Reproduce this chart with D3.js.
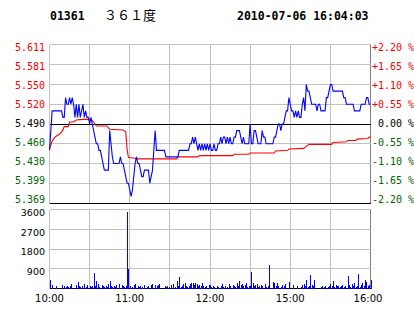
<!DOCTYPE html>
<meta charset="utf-8">
<style>
body{margin:0;background:#fff;}
svg{display:block;}
.mono{font-family:"DejaVu Sans Mono",monospace;}
.sans{font-family:"DejaVu Sans",Verdana,sans-serif;}
</style>
<body>
<script src="https://d3js.org/d3.v7.min.js"></script>
<script>

var stockCode="01361", stockName="３６１度", stamp="2010-07-06 16:04:03";
var prevClose=5.49;
var pctTicks=[2.2,1.65,1.1,0.55,0,-0.55,-1.1,-1.65,-2.2];
var volTicks=[3600,2700,1800,900];
var gridMinutes=[0,30,60,90,120,150,180,210,240];
var timeLabels=["10:00","11:00","12:00","15:00","16:00"];
var timeMinutes=[0,60,120,180,240];

// price per minute, 10:00-12:30 then 14:30-16:00 (241 points)
var prices=[
5.45,5.48,5.51,5.51,5.51,5.51,5.51,5.51,5.51,5.51,
5.50,5.50,5.53,5.52,5.52,5.53,5.52,5.53,5.52,5.50,
5.52,5.50,5.52,5.50,5.51,5.52,5.50,5.51,5.50,5.50,
5.49,5.50,5.49,5.48,5.47,5.46,5.46,5.45,5.45,5.44,
5.43,5.42,5.42,5.42,5.42,5.48,5.46,5.44,5.43,5.43,
5.43,5.43,5.43,5.44,5.43,5.43,5.42,5.41,5.40,5.40,
5.39,5.38,5.39,5.41,5.43,5.44,5.43,5.43,5.42,5.41,
5.41,5.42,5.42,5.42,5.42,5.40,5.41,5.42,5.45,5.48,
5.45,5.45,5.45,5.45,5.45,5.45,5.45,5.44,5.44,5.44,
5.44,5.44,5.44,5.44,5.44,5.44,5.44,5.45,5.45,5.45,
5.45,5.45,5.45,5.45,5.45,5.46,5.46,5.47,5.46,5.47,
5.46,5.45,5.46,5.45,5.46,5.45,5.46,5.45,5.46,5.45,
5.46,5.45,5.45,5.46,5.45,5.45,5.46,5.46,5.47,5.46,
5.47,5.47,5.46,5.47,5.46,5.47,5.46,5.46,5.47,5.47,
5.48,5.48,5.48,5.47,5.46,5.47,5.46,5.46,5.46,5.46,
5.49,5.46,5.46,5.48,5.48,5.47,5.46,5.46,5.46,5.48,
5.47,5.47,5.46,5.46,5.46,5.46,5.46,5.46,5.47,5.47,
5.48,5.49,5.49,5.48,5.49,5.49,5.50,5.51,5.51,5.53,
5.52,5.51,5.51,5.50,5.51,5.50,5.51,5.50,5.50,5.52,
5.53,5.51,5.55,5.54,5.54,5.53,5.52,5.52,5.52,5.52,
5.51,5.52,5.52,5.51,5.51,5.51,5.51,5.53,5.53,5.54,
5.55,5.55,5.54,5.54,5.54,5.54,5.54,5.54,5.54,5.54,
5.53,5.53,5.52,5.52,5.52,5.52,5.52,5.52,5.51,5.51,
5.51,5.51,5.51,5.52,5.52,5.52,5.52,5.53,5.53,5.52,
5.52];

// average price [minute, value]
var avgPoints=[
[0,5.452],[1,5.458],[2,5.464],[4,5.470],[7,5.474],[9,5.478],[10,5.481],[11,5.486],
[14,5.486],[15,5.493],[18,5.493],[20,5.496],[25,5.497],[31,5.497],[33,5.493],[34,5.490],
[35,5.487],[43,5.487],[44,5.484],[45,5.482],[55,5.481],[57,5.478],[58,5.452],[59,5.439],
[64,5.438],[65,5.437],[95,5.437],[96,5.440],[111,5.440],[112,5.442],[137,5.442],[138,5.444],
[149,5.444],[150,5.446],[168,5.446],[169,5.449],[178,5.450],[179,5.452],[190,5.453],[192,5.456],
[194,5.459],[211,5.459],[212,5.462],[222,5.463],[223,5.465],[229,5.465],[230,5.467],[238,5.468],
[239,5.470],[240,5.470]];

// volume per minute
var volumes=[
380,0,150,0,0,100,0,0,0,150,
0,100,80,100,80,100,200,0,0,0,
150,300,100,80,100,0,200,80,180,0,
100,80,100,715,100,330,200,80,0,150,
100,80,100,80,200,330,100,80,100,80,
150,0,200,0,150,100,80,100,3490,870,
100,0,80,150,200,0,100,80,100,80,
0,150,0,80,100,0,150,200,0,150,
100,150,200,0,0,0,100,80,100,80,
0,150,200,0,80,330,100,530,80,100,
200,260,100,80,100,200,270,260,150,230,
200,100,150,100,270,100,80,100,0,150,
150,80,100,80,0,100,80,0,100,200,
80,100,0,80,200,100,0,150,100,80,
230,100,330,150,200,100,150,270,80,100,
100,760,270,100,150,200,80,100,150,100,
0,200,80,100,1064,0,0,300,230,100,
260,100,0,80,150,100,200,0,0,300,
0,0,150,0,0,100,0,0,80,150,
200,100,410,80,100,610,150,100,380,0,
0,0,0,80,100,80,100,0,80,100,
200,100,330,80,150,100,100,80,100,150,
80,100,0,560,150,80,200,100,270,80,
100,680,80,150,260,100,380,300,100,150,
410];

var W=414,H=314;
var red="#ff0000",green="#006600",gray="#c0c0c0",blue="#0000ff";
var svg=d3.select("body").append("svg").attr("width",W).attr("height",H);
svg.append("rect").attr("width",W).attr("height",H).attr("fill","#fff");

var x=d3.scaleLinear().domain([0,240]).range([49.5,370.5]);
var lo=prevClose*(1-0.022), hi=prevClose*(1+0.022);
var yP=d3.scaleLinear().domain([lo,hi]).range([203.5,44.5]);
var yV=d3.scaleLinear().domain([0,3600]).range([288.5,209.5]);
var crisp=function(v){return Math.floor(v)+0.5;};
var pv=function(p){return prevClose*(1+p/100);};

// header
svg.append("text").attr("class","mono").attr("x",50).attr("y",20)
	.attr("font-size","11.5px").attr("font-weight","bold").text(stockCode);
svg.append("text").attr("x",104).attr("y",20)
	.attr("font-family","'Noto Sans CJK SC'").attr("font-size","13px").text(stockName);
svg.append("text").attr("class","mono").attr("x",237).attr("y",20)
	.attr("font-size","11.5px").attr("font-weight","bold").text(stamp);

// grid, price panel
var g=svg.append("g").attr("shape-rendering","crispEdges");
g.selectAll(".vgp").data(gridMinutes).enter().append("line")
	.attr("x1",d=>crisp(x(d))).attr("x2",d=>crisp(x(d)))
	.attr("y1",yP(hi)).attr("y2",yP(lo))
	.attr("stroke",d=>d==240?"#808080":gray);
g.selectAll(".hgp").data(pctTicks).enter().append("line")
	.attr("x1",x(0)).attr("x2",x(240))
	.attr("y1",d=>crisp(yP(pv(d)))).attr("y2",d=>crisp(yP(pv(d))))
	.attr("stroke",d=>(d==0||d==-2.2)?"#000":gray);

// grid, volume panel
g.selectAll(".vgv").data(gridMinutes).enter().append("line")
	.attr("x1",d=>crisp(x(d))).attr("x2",d=>crisp(x(d)))
	.attr("y1",yV(3600)).attr("y2",yV(0))
	.attr("stroke",d=>d==240?"#808080":gray);
g.selectAll(".hgv").data(volTicks.concat([0])).enter().append("line")
	.attr("x1",x(0)).attr("x2",x(240))
	.attr("y1",d=>crisp(yV(d))).attr("y2",d=>crisp(yV(d)))
	.attr("stroke",d=>d==0?"#000":gray);

// volume bars
var bars=volumes.map((v,i)=>({m:i,v:v})).filter(d=>d.v>0);
g.selectAll(".vb").data(bars).enter().append("rect")
	.attr("x",d=>Math.round(x(d.m)))
	.attr("width",1)
	.attr("y",d=>Math.round(yV(d.v)))
	.attr("height",d=>Math.max(1,Math.round(yV(0))-Math.round(yV(d.v))))
	.attr("fill",blue);

// lines
var line=d3.line().x(d=>x(d[0])).y(d=>yP(d[1]));
svg.append("path").datum(avgPoints).attr("d",line)
	.attr("fill","none").attr("stroke",red).attr("stroke-width",1.1);
svg.append("path").datum(prices.map((p,i)=>[i,p])).attr("d",line)
	.attr("fill","none").attr("stroke",blue).attr("stroke-width",1.1);

// price labels
var labY=d3.scaleLinear().domain([0,pctTicks.length-1]).range([47.5,199.7]);
var colOf=d=>d>0?red:(d<0?green:"#000");
svg.selectAll(".pl").data(pctTicks).enter().append("text").attr("class","mono")
	.attr("x",45).attr("y",(d,i)=>labY(i)).attr("dy","0.36em")
	.attr("text-anchor","end").attr("font-size","10px")
	.attr("fill",colOf).text(d=>d3.format(".3f")(pv(d)));
svg.selectAll(".pr").data(pctTicks).enter().append("text").attr("class","mono")
	.attr("x",372).attr("y",(d,i)=>labY(i)).attr("dy","0.36em")
	.attr("font-size","10px").attr("fill",colOf)
	.attr("xml:space","preserve").style("white-space","pre")
	.text(d=>(d>0?"+":(d<0?"-":" "))+d3.format(".2f")(Math.abs(d))+" %");

// volume labels
svg.selectAll(".vl").data(volTicks).enter().append("text").attr("class","sans")
	.attr("x",45).attr("y",d=>yV(d)+3).attr("dy","0.36em")
	.attr("text-anchor","end").attr("font-size","9.5px").text(d=>d);

// time labels
svg.selectAll(".tl").data(timeMinutes).enter().append("text").attr("class","sans")
	.attr("x",d=>Math.min(x(d),368)).attr("y",302)
	.attr("text-anchor","middle").attr("font-size","10px")
	.text((d,i)=>timeLabels[i]);
</script>
</body>
</html>
